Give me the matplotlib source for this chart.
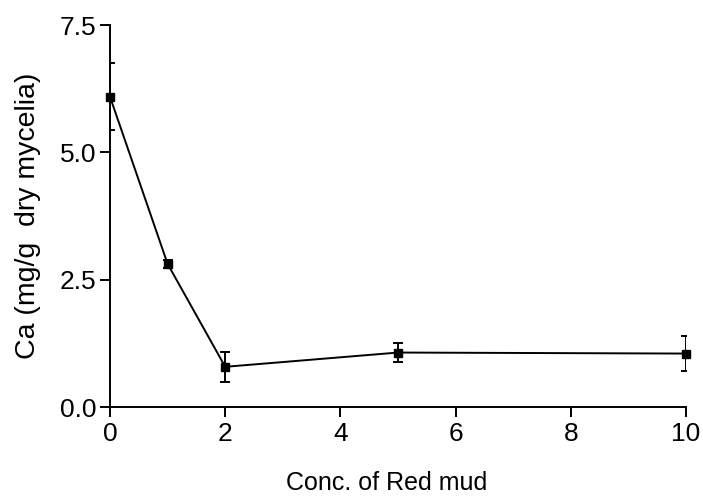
import numpy as np
import matplotlib
matplotlib.use("Agg")
import matplotlib.pyplot as plt

plt.rcParams['font.family'] = ['Liberation Sans', 'DejaVu Sans']

# data
conc = [0, 1, 2, 5, 10]
ca = [6.09, 2.81, 0.79, 1.07, 1.05]
ca_err = [0.66, 0.08, 0.30, 0.18, 0.34]

fig = plt.figure(figsize=(7.03, 4.97), dpi=100)
ax = fig.add_axes([0.1565, 0.181, 0.8193, 0.7686])

ax.plot(conc, ca, color='black', linewidth=1.4, marker='s', markersize=5.5,
        clip_on=False, zorder=3)
ax.errorbar(conc, ca, yerr=ca_err, fmt='none', ecolor='black',
            elinewidth=1.4, capsize=3.6, capthick=1.4, zorder=2)

ax.set_xlim(0, 10)
ax.set_ylim(0, 7.5)
ax.set_xticks([0, 2, 4, 6, 8, 10])
ax.set_yticks([0.0, 2.5, 5.0, 7.5])
ax.set_yticklabels(['0.0', '2.5', '5.0', '7.5'])

for s in ['top', 'right']:
    ax.spines[s].set_visible(False)
for s in ['left', 'bottom']:
    ax.spines[s].set_linewidth(1.4)
ax.tick_params(direction='out', length=7, width=1.4, labelsize=19)
ax.tick_params(axis='y', pad=3)
ax.tick_params(axis='x', pad=4)

ax.set_xlabel('Conc. of Red mud', fontsize=18, labelpad=18)
ax.xaxis.label.set_x(0.48)
ax.set_ylabel('Ca (mg/g  dry mycelia)', fontsize=20.5, labelpad=13)

fig.savefig('out.png', dpi=100)
